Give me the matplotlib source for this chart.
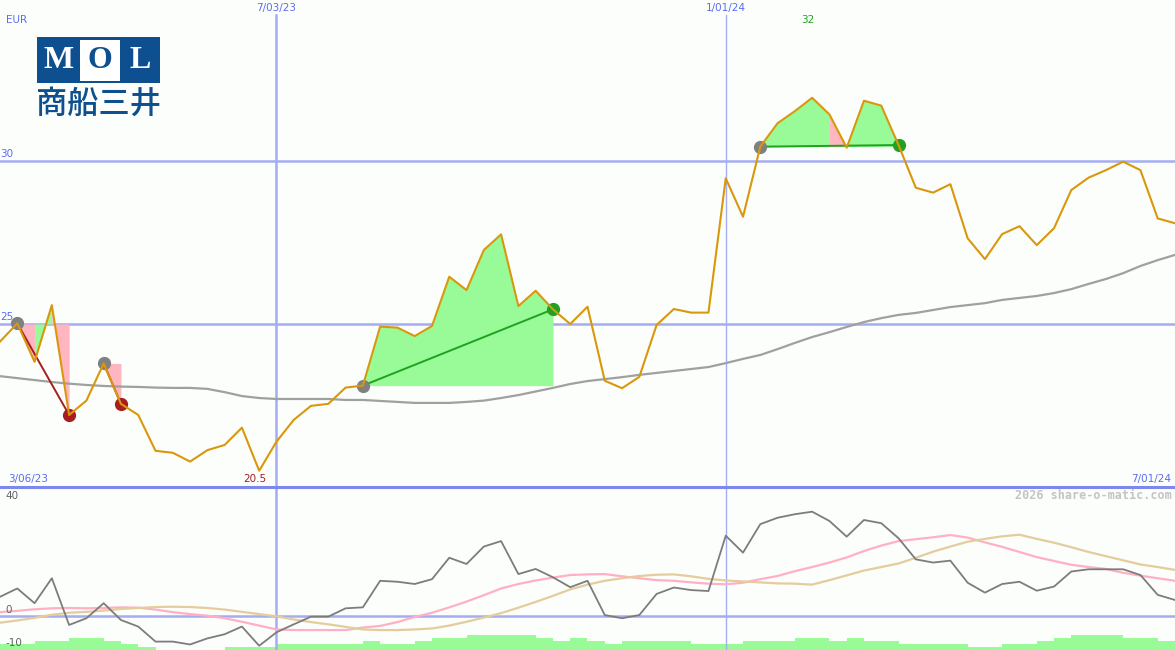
import numpy as np
import matplotlib.pyplot as plt
from matplotlib.patches import Rectangle
from matplotlib.lines import Line2D

# weekly closes (EUR), 3/06/23 .. 7/01/24
price = [24.46, 25.02, 23.84, 25.58, 22.21, 22.65, 23.79, 22.55, 22.21, 21.11,
         21.05, 20.78, 21.13, 21.29, 21.82, 20.50, 21.39, 22.06, 22.49, 22.55,
         23.05, 23.11, 24.92, 24.89, 24.63, 24.94, 26.45, 26.04, 27.27, 27.75,
         25.55, 26.02, 25.45, 25.00, 25.53, 23.26, 23.03, 23.38, 24.97, 25.46,
         25.35, 25.35, 29.47, 28.29, 30.44, 31.16, 31.53, 31.94, 31.43, 30.41,
         31.85, 31.70, 30.49, 29.18, 29.03, 29.29, 27.63, 26.99, 27.76, 28.00,
         27.42, 27.94, 29.11, 29.49, 29.72, 29.98, 29.72, 28.24, 28.09]

avg = [23.40, 23.34, 23.28, 23.22, 23.17, 23.13, 23.10, 23.08, 23.07, 23.05,
       23.04, 23.04, 23.01, 22.91, 22.79, 22.73, 22.70, 22.70, 22.70, 22.70,
       22.67, 22.67, 22.64, 22.61, 22.58, 22.58, 22.58, 22.61, 22.65, 22.73,
       22.82, 22.93, 23.04, 23.16, 23.25, 23.31, 23.37, 23.44, 23.50, 23.56,
       23.62, 23.68, 23.80, 23.93, 24.05, 24.23, 24.42, 24.60, 24.75, 24.91,
       25.06, 25.18, 25.28, 25.34, 25.43, 25.52, 25.58, 25.64, 25.74, 25.80,
       25.86, 25.95, 26.07, 26.23, 26.38, 26.56, 26.78, 26.96, 27.12]

osc = [6.0, 8.6, 4.0, 11.8, -2.8, -0.7, 4.0, -1.25, -3.3, -8.0,
       -8.0, -8.9, -7.0, -5.7, -3.3, -9.3, -5.1, -2.6, -0.2, -0.2,
       2.4, 2.7, 11.0, 10.7, 10.0, 11.5, 18.2, 16.25, 21.7, 23.4,
       13.1, 14.7, 12.1, 9.0, 11.0, 0.3, -0.7, 0.3, 6.9, 8.9,
       8.1, 7.8, 25.1, 19.8, 28.7, 30.7, 31.8, 32.6, 29.7, 24.8,
       30.0, 29.0, 24.3, 17.7, 16.7, 17.3, 10.4, 7.3, 10.0, 10.7,
       7.9, 9.2, 13.9, 14.6, 14.6, 14.6, 12.8, 6.6, 5.0]

osc_fast = [1.2, 1.6, 2.1, 2.4, 2.5, 2.4, 2.5, 2.7, 2.6, 2.0,
            1.2, 0.6, 0.1, -0.7, -1.8, -3.0, -4.2, -4.4, -4.4, -4.4,
            -4.4, -3.6, -3.1, -1.9, -0.3, 1.0, 2.7, 4.5, 6.5, 8.6,
            10.0, 11.1, 12.0, 12.8, 13.0, 13.1, 12.4, 11.8, 11.2, 11.0,
            10.5, 10.1, 9.9, 10.4, 11.5, 12.5, 14.0, 15.3, 16.7, 18.3,
            20.3, 22.0, 23.4, 24.0, 24.6, 25.3, 24.5, 23.0, 21.6, 20.0,
            18.4, 17.2, 16.0, 15.3, 14.7, 13.5, 12.6, 11.8, 11.0]

osc_slow = [-2.1, -1.4, -0.6, 0.4, 1.0, 1.3, 1.7, 2.2, 2.5, 2.8,
            2.9, 2.8, 2.5, 2.0, 1.3, 0.6, -0.1, -1.1, -1.9, -2.6,
            -3.4, -4.2, -4.4, -4.4, -4.2, -3.9, -3.0, -1.8, -0.5, 0.9,
            2.6, 4.4, 6.3, 8.3, 9.8, 11.0, 11.8, 12.5, 12.9, 13.0,
            12.4, 11.6, 11.1, 10.8, 10.5, 10.2, 10.1, 9.8, 11.2, 12.7,
            14.2, 15.3, 16.4, 18.2, 20.1, 21.7, 23.2, 24.1, 24.9, 25.4,
            24.1, 22.9, 21.5, 20.0, 18.7, 17.4, 16.1, 15.3, 14.4]

hist = [2, 2, 3, 3, 4, 4, 3, 2, 1, 0, 0, 0, 0, 1, 1, 1, 2, 2, 2, 2,
        2, 3, 2, 2, 3, 4, 4, 5, 5, 5, 5, 4, 3, 4, 3, 2, 3, 3, 3, 3,
        2, 2, 2, 3, 3, 3, 4, 4, 3, 4, 3, 3, 2, 2, 2, 2, 1, 1, 2, 2,
        3, 4, 5, 5, 5, 4, 4, 3]

# pattern overlays
fill_start = [1, 2, 3, 6, 21, 44, 48, 49]
fill_end = [2, 3, 4, 7, 32, 48, 49, 52]
fill_base = [25.0, 25.0, 25.0, 23.79, 23.11, 30.44, 30.44, 30.44]
fill_up = [False, True, False, False, True, True, False, True]
chord_from = [1, 6, 21, 44]
chord_to = [4, 7, 32, 52]
chord_up = [False, False, True, True]
dots_gray = [1, 6, 21, 44]
dots_red = [4, 7]
dots_green = [32, 52]

date_idx = [16, 42]
date_lab = ['7/03/23', '1/01/24']
first_lab, last_lab = '3/06/23', '7/01/24'

bg = '#fcfefc'
blue_txt = '#5b6cf0'
grid = '#a4acf2'
orange = '#d9980b'
pale_green = '#98fb98'
pink = '#ffb6c1'
dkgreen = '#22a022'
dkred = '#a61e1e'

x = np.arange(len(price))
price = np.array(price)

fig = plt.figure(figsize=(11.75, 6.5), dpi=100, facecolor=bg)
ax = fig.add_axes([0, 163 / 650, 1, 487 / 650])
axh = fig.add_axes([0, 0, 1, 163 / 650])
axb = fig.add_axes([0, 0, 1, 163 / 650])
for a in (ax, axh, axb):
    a.set_xlim(0, len(price) - 1)
    a.set_xticks([])
    a.set_yticks([])
    for s in a.spines.values():
        s.set_visible(False)
ax.set_facecolor(bg)
axh.set_facecolor(bg)
axb.patch.set_visible(False)

# ---- price panel
ax.set_ylim(20, 34.94)
for lv in (25, 30):
    ax.axhline(lv, color=grid, lw=1.8, zorder=1)
ax.axvline(date_idx[0], ymax=0.969, color=grid, lw=1.8, zorder=1)
ax.axvline(date_idx[1], ymax=0.969, color=grid, lw=1.0, zorder=1)

for s, e, b, up in zip(fill_start, fill_end, fill_base, fill_up):
    ax.fill_between(x[s:e + 1], b, price[s:e + 1], color=pale_green if up else pink,
                    lw=0, zorder=2)
ax.plot(x, avg, color='#a0a0a0', lw=1.6, zorder=3)
for s, e, up in zip(chord_from, chord_to, chord_up):
    yb = fill_base[fill_start.index(s)] if s in fill_start else price[s]
    ax.plot([s, e], [price[s] if not up else yb, price[e]],
            color=dkgreen if up else dkred, lw=1.4, zorder=4)
ax.plot(dots_gray, price[dots_gray], 'o', color='#808080', ms=8.5, zorder=5)
ax.plot(dots_red, price[dots_red], 'o', color=dkred, ms=8.5, zorder=5)
ax.plot(dots_green, price[dots_green], 'o', color=dkgreen, ms=8.5, zorder=5)
ax.plot(x, price, color=orange, lw=1.5, zorder=6)

fs = 7.5
ax.text(0.005, 0.959, 'EUR', transform=ax.transAxes, color=blue_txt, fontsize=fs, va='center')
for lv in (25, 30):
    ax.text(0.004, lv + 0.07, str(lv), color=blue_txt, fontsize=fs, va='bottom', zorder=8)
for i, lab in zip(date_idx, date_lab):
    ax.text(i, 0.983, lab, transform=ax.get_xaxis_transform(), color=blue_txt,
            fontsize=fs, ha='center', va='center')
ax.text(0.007, 0.0165, first_lab, transform=ax.transAxes, color=blue_txt, fontsize=fs, va='center')
ax.text(0.997, 0.0165, last_lab, transform=ax.transAxes, color=blue_txt, fontsize=fs,
        va='center', ha='right')
imax, imin = int(np.argmax(price)), int(np.argmin(price))
ax.text(imax - 0.25, 0.959, f'{price.max():.0f}', transform=ax.get_xaxis_transform(),
        color=dkgreen, fontsize=fs, ha='center', va='center')
ax.text(imin - 0.25, 0.0165, f'{price.min():g}', transform=ax.get_xaxis_transform(),
        color=dkred, fontsize=fs, ha='center', va='center')

# ---- oscillator panel
axh.set_ylim(0, 163 / 3)
axh.bar(x[:-1], hist, width=1.0, align='edge', color=pale_green, lw=0)

axb.set_ylim(-10.625, 40.31)
axb.axhline(0, color=grid, lw=1.8, zorder=1)
axb.axvline(date_idx[0], color=grid, lw=1.8, zorder=1)
axb.axvline(date_idx[1], color=grid, lw=1.0, zorder=1)
axb.plot(x, osc_fast, color='#ffb0c4', lw=1.6, zorder=2)
axb.plot(x, osc_slow, color='#e4cc9c', lw=1.6, zorder=2)
axb.plot(x, osc, color='#7c7c7c', lw=1.3, zorder=3)
for v, yy in ((40, 0.945), (0, 0.245), (-10, 0.045)):
    axb.text(0.005, yy, str(v), transform=axb.transAxes, color='#606060', fontsize=fs, va='center')
axb.text(0.997, 0.945, '2026 share-o-matic.com', transform=axb.transAxes, color='#c4c4c4',
         fontsize=8.5, family='DejaVu Sans Mono', weight='bold', ha='right', va='center')

# separator between panels
fig.add_artist(Line2D([0, 1], [163 / 650, 163 / 650], color='#7c88ee', lw=2.2, zorder=10))

# ---- logo
lg = fig.add_axes([37 / 1175, 1 - 120 / 650, 123 / 1175, 83 / 650])
lg.set_xlim(37, 160)
lg.set_ylim(120, 37)
lg.axis('off')
navy = '#0d4f8f'
lg.add_patch(Rectangle((37, 37), 123, 46, color=navy, lw=0))
lg.add_patch(Rectangle((79.5, 39.5), 40, 41.5, color='white', lw=0))
for cx, ch, col in ((58.5, 'M', 'white'), (99.5, 'O', navy), (140, 'L', 'white')):
    lg.text(cx, 61, ch, color=col, fontsize=23, weight='bold', family='Liberation Serif',
            ha='center', va='center')
lg.text(98.5, 104, '商船三井', color=navy, fontsize=22.5, family='Noto Sans CJK JP',
        weight='medium', ha='center', va='center')

fig.savefig('out.png', dpi=100, facecolor=bg)
